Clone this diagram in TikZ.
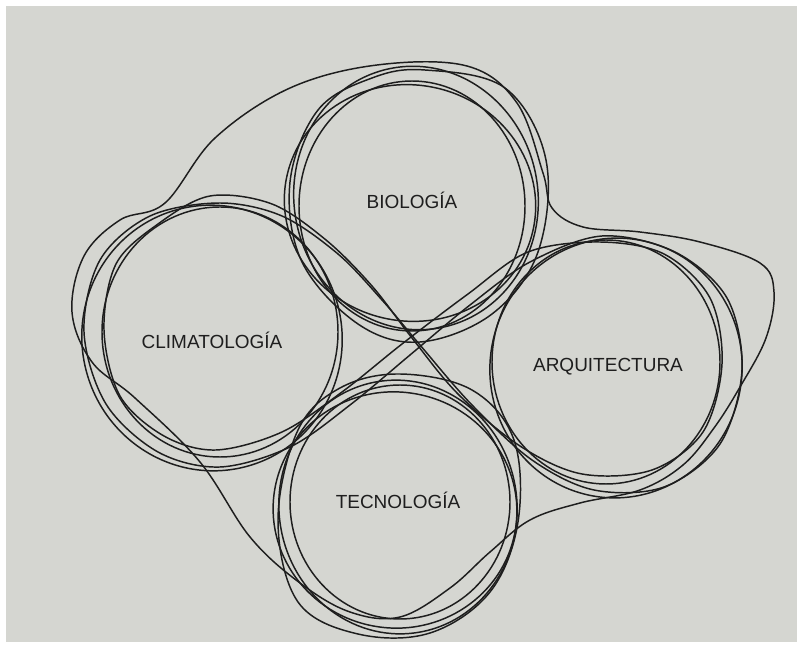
\documentclass[tikz,border=0pt]{standalone}
\usepackage{fontspec}
\usepackage{tikz}
\newfontfamily\fieldfont{Liberation Sans}
\definecolor{paper}{RGB}{213,214,209}
\definecolor{ink}{RGB}{30,30,30}
\tikzset{
  sketchline/.style={draw=ink, line width=1.05pt},
  fieldtext/.style={font=\fieldfont\fontsize{13.5}{15}\selectfont, text=ink, inner sep=1pt}
}

\begin{document}
\begin{tikzpicture}[x=0.025cm,y=-0.025cm]
    \useasboundingbox (0,0) rectangle (804,648);
    \fill[white] (0,0) rectangle (804,648);
    \fill[paper] (6,6) rectangle (797,642);

    % outer envelope
    \draw[sketchline] plot[smooth cycle, tension=0.6] coordinates {
      (165,203) (215,138) (290,88) (377,65) (467,66) (517,103) (543,173)
      (552,208) (583,227) (640,232) (700,242) (760,263) (774,292) (766,338)
      (740,387) (714,428) (683,465) (640,490) (580,503) (530,520) (490,552)
      (450,588) (400,617) (350,612) (300,583) (250,537) (200,462) (135,398)
      (92,362) (72,312) (84,256) (120,220)};

    % infinity strokes
    \draw[sketchline] plot[smooth cycle, tension=0.55] coordinates {
      (220,203) (282,216) (338,254) (382,300) (420,345) (472,405) (532,460)
      (594,490) (664,487) (720,444) (742,370) (727,298) (675,252) (602,236)
      (530,262) (470,305) (410,355) (350,405) (290,447) (220,467) (158,452)
      (106,404) (84,332) (100,260) (150,216)};
    \draw[sketchline] plot[smooth cycle, tension=0.55] coordinates {
      (210,196) (272,204) (326,240) (372,286) (412,338) (458,394) (520,446)
      (582,474) (652,470) (703,432) (722,364) (710,298) (664,254) (600,242)
      (528,252) (468,294) (402,344) (342,392) (282,432) (216,450) (164,436)
      (120,396) (104,330) (116,264) (158,224)};

    % biologia
    \draw[sketchline] (412,206) ellipse [x radius=113, y radius=125];
    \draw[sketchline, rotate around={10:(416,198)}] (416,198) ellipse [x radius=122, y radius=132];
    \draw[sketchline] plot[smooth cycle, tension=0.6] coordinates {
      (425,70) (505,88) (546,160) (538,252) (492,314) (420,342) (358,324)
      (302,262) (290,182) (318,110) (372,78)};
    \draw[sketchline, rotate around={-12:(410,203)}] (410,203) ellipse [x radius=126, y radius=118];

    % climatologia
    \draw[sketchline] (220,332) ellipse [x radius=118, y radius=125];
    \draw[sketchline, rotate around={15:(212,338)}] (212,338) ellipse [x radius=130, y radius=133];

    % arquitectura
    \draw[sketchline] (606,362) ellipse [x radius=114, y radius=122];
    \draw[sketchline, rotate around={-10:(616,368)}] (616,368) ellipse [x radius=126, y radius=130];

    % tecnologia
    \draw[sketchline] (400,502) ellipse [x radius=110, y radius=117];
    \draw[sketchline, rotate around={8:(398,507)}] (398,507) ellipse [x radius=119, y radius=127];
    \draw[sketchline] plot[smooth cycle, tension=0.6] coordinates {
      (400,374) (472,390) (514,440) (518,522) (490,592) (430,633) (358,634)
      (298,602) (278,520) (298,430) (340,388)};
    \draw[sketchline, rotate around={-10:(395,510)}] (395,510) ellipse [x radius=122, y radius=118];

    % labels
    \node[fieldtext] (bio) at (412,200) {BIOLOGÍA};
    \node[fieldtext] (clim) at (212,340) {CLIMATOLOGÍA};
    \node[fieldtext] (arq) at (608,367) {ARQUITECTURA};
    \node[fieldtext] (tec) at (398,500) {TECNOLOGÍA};
\end{tikzpicture}
\end{document}
